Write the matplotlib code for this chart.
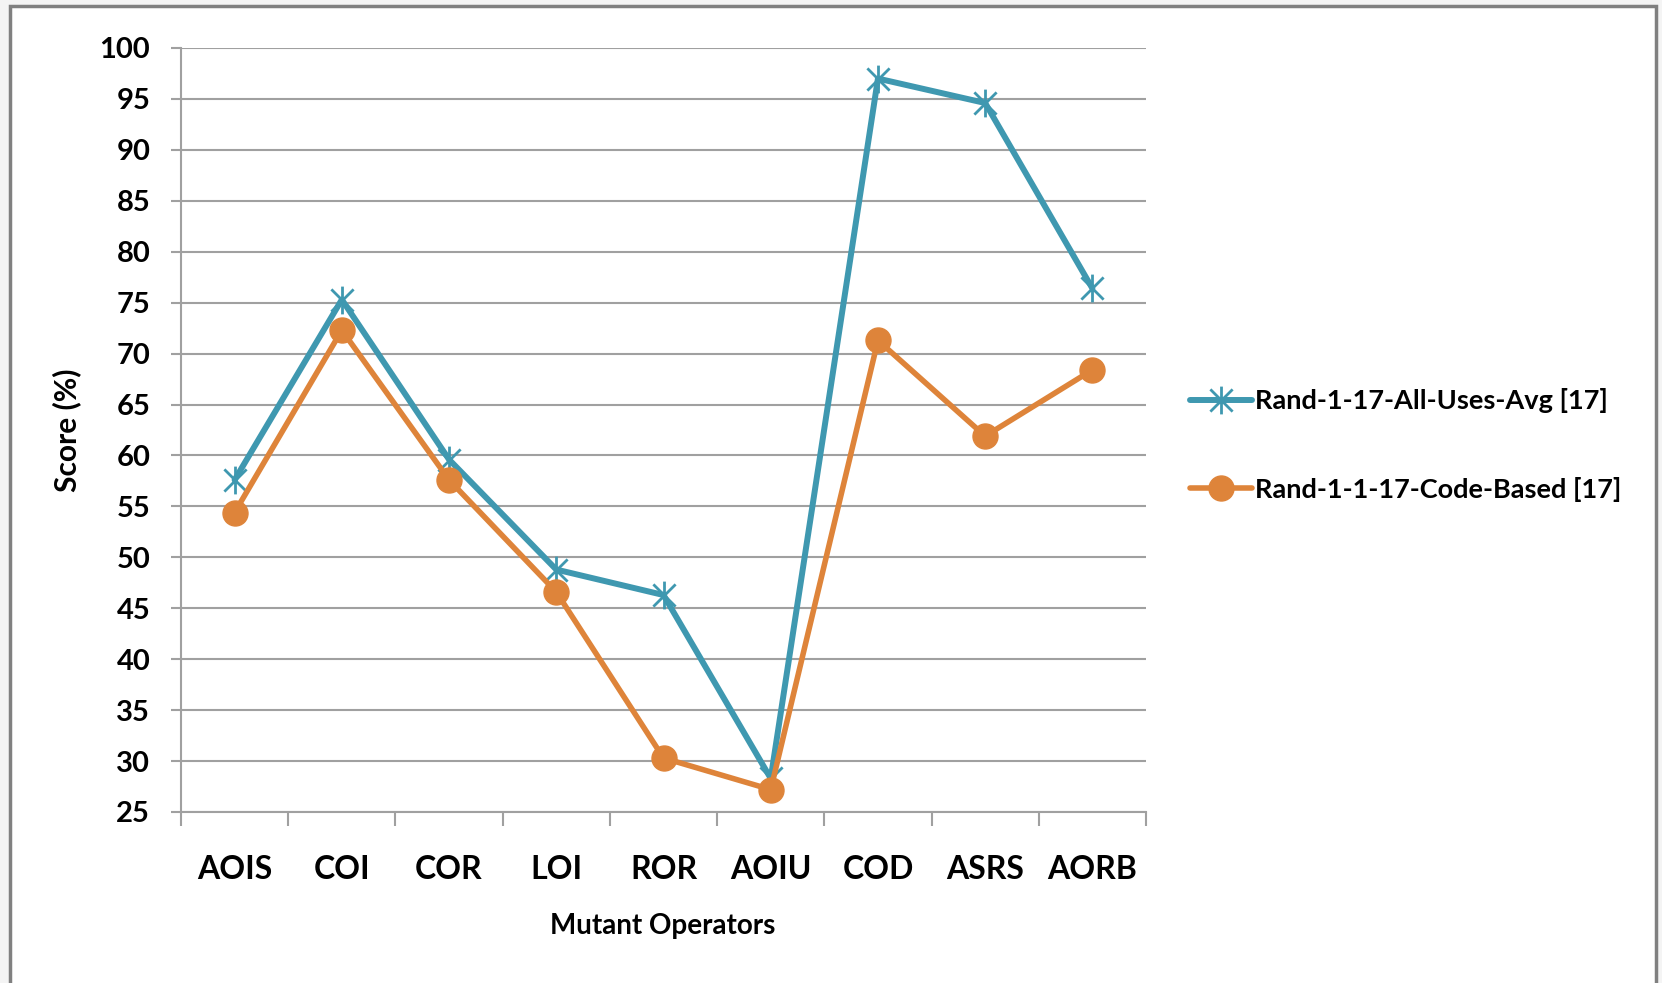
import matplotlib
matplotlib.use('Agg')
import matplotlib.pyplot as plt
from matplotlib.path import Path
from matplotlib.patches import Rectangle

# mutation scores per operator
operators = ['AOIS', 'COI', 'COR', 'LOI', 'ROR', 'AOIU', 'COD', 'ASRS', 'AORB']
all_uses_avg = [57.6, 75.3, 59.6, 48.8, 46.3, 28.3, 97.0, 94.6, 76.4]
code_based = [54.4, 72.3, 57.6, 46.6, 30.3, 27.2, 71.3, 61.9, 68.4]
series_labels = ['Rand-1-17-All-Uses-Avg [17]', 'Rand-1-1-17-Code-Based [17]']
yticks = list(range(25, 101, 5))

plt.rcParams['font.family'] = ['Lato', 'DejaVu Sans']

blue = '#3f98b0'
orange = '#de843a'
grid_gray = '#a0a0a0'

W, H = 1662, 983

# excel style star marker: an X with a vertical bar through it
star = Path([(0, -1), (0, 1), (-0.8, -0.8), (0.8, 0.8), (-0.8, 0.8), (0.8, -0.8)],
            [Path.MOVETO, Path.LINETO] * 3)

fig = plt.figure(figsize=(W / 100, H / 100), dpi=100)
fig.patch.set_facecolor('#f4f4f4')
# chart frame
fig.patches.append(Rectangle((10 / W, -0.1), (1656 - 10) / W, 1.1 - 6 / H,
                             transform=fig.transFigure, facecolor='white',
                             edgecolor='#808080', linewidth=2.5, zorder=-1))

ax = fig.add_axes([181 / W, 1 - 812 / H, (1146 - 181) / W, (812 - 48) / H])
ax.patch.set_visible(False)

x = list(range(len(operators)))
ax.plot(x, all_uses_avg, color=blue, lw=4.3, marker=star, ms=20, mew=2.0,
        mec=blue, label=series_labels[0], solid_joinstyle='round',
        solid_capstyle='round', zorder=3)
ax.plot(x, code_based, color=orange, lw=4.0, marker='o', ms=18, mec=orange,
        mfc=orange, label=series_labels[1], solid_joinstyle='round',
        solid_capstyle='round', zorder=4)

ax.set_xlim(-0.5, len(operators) - 0.5)
ax.set_ylim(25, 100)
ax.set_yticks(yticks)
ax.yaxis.grid(True, color=grid_gray, lw=1.5)
ax.set_axisbelow(True)

# tick marks between categories, labels centred on them
ax.set_xticks([i - 0.5 for i in range(len(operators) + 1)])
ax.set_xticklabels([])
ax.set_xticks(x, minor=True)
ax.set_xticklabels(operators, minor=True, fontweight='bold')
ax.tick_params(axis='x', which='major', length=10, width=1.5, color=grid_gray)
ax.tick_params(axis='x', which='minor', length=0, pad=31, labelsize=23)
ax.tick_params(axis='y', length=7.2, width=1.5, color=grid_gray, pad=15,
               labelsize=21)
for lbl in ax.get_yticklabels():
    lbl.set_fontweight('bold')

for s in ['top', 'right']:
    ax.spines[s].set_visible(False)
for s in ['left', 'bottom']:
    ax.spines[s].set_color(grid_gray)
    ax.spines[s].set_linewidth(1.5)

fig.text(67 / W, 1 - 430 / H, 'Score (%)', rotation=90, ha='center',
         va='center', fontsize=21.5, fontweight='bold')
fig.text(663 / W, 1 - 926 / H, 'Mutant Operators', ha='center', va='center',
         fontsize=20, fontweight='bold')

fig.legend(loc='center left', bbox_to_anchor=(1190 / W, 1 - 445 / H),
           frameon=False, prop={'size': 19.5, 'weight': 'bold'},
           handlelength=2.3, handletextpad=0.1, labelspacing=2.35,
           borderpad=0, borderaxespad=0)

fig.savefig('out.png', dpi=100, facecolor=fig.get_facecolor())
